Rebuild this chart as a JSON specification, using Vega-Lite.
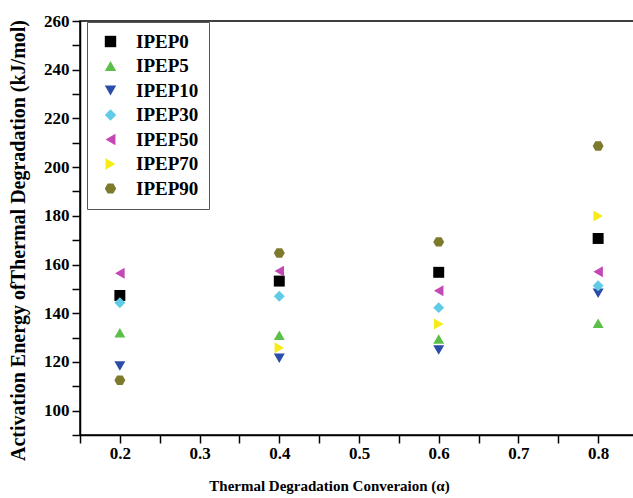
{
  "$schema": "https://vega.github.io/schema/vega-lite/v6.json",
  "autosize": "none",
  "padding": {"left": 80, "top": 21, "right": 0, "bottom": 63},
  "width": 558,
  "height": 414,
  "background": "white",
  "config": {
    "view": {"stroke": "black", "strokeWidth": 1.5},
    "font": "Liberation Serif"
  },
  "data": {
    "values": [
      {"conversion": 0.2, "sample": "IPEP0", "energy": 147.3},
      {"conversion": 0.2, "sample": "IPEP5", "energy": 132.0},
      {"conversion": 0.2, "sample": "IPEP10", "energy": 118.3},
      {"conversion": 0.2, "sample": "IPEP30", "energy": 144.3},
      {"conversion": 0.2, "sample": "IPEP50", "energy": 156.4},
      {"conversion": 0.2, "sample": "IPEP90", "energy": 112.5},
      {"conversion": 0.4, "sample": "IPEP0", "energy": 153.2},
      {"conversion": 0.4, "sample": "IPEP5", "energy": 131.0},
      {"conversion": 0.4, "sample": "IPEP10", "energy": 121.5},
      {"conversion": 0.4, "sample": "IPEP30", "energy": 147.0},
      {"conversion": 0.4, "sample": "IPEP50", "energy": 157.3},
      {"conversion": 0.4, "sample": "IPEP70", "energy": 125.8},
      {"conversion": 0.4, "sample": "IPEP90", "energy": 164.7},
      {"conversion": 0.6, "sample": "IPEP0", "energy": 156.8},
      {"conversion": 0.6, "sample": "IPEP5", "energy": 129.4},
      {"conversion": 0.6, "sample": "IPEP10", "energy": 124.9},
      {"conversion": 0.6, "sample": "IPEP30", "energy": 142.3},
      {"conversion": 0.6, "sample": "IPEP50", "energy": 149.2},
      {"conversion": 0.6, "sample": "IPEP70", "energy": 135.6},
      {"conversion": 0.6, "sample": "IPEP90", "energy": 169.3},
      {"conversion": 0.8, "sample": "IPEP0", "energy": 170.7},
      {"conversion": 0.8, "sample": "IPEP5", "energy": 135.9},
      {"conversion": 0.8, "sample": "IPEP10", "energy": 148.2},
      {"conversion": 0.8, "sample": "IPEP30", "energy": 151.3},
      {"conversion": 0.8, "sample": "IPEP50", "energy": 157.0},
      {"conversion": 0.8, "sample": "IPEP70", "energy": 179.9},
      {"conversion": 0.8, "sample": "IPEP90", "energy": 208.7}
    ]
  },
  "mark": {"type": "point", "filled": true, "size": 120, "opacity": 1},
  "encoding": {
    "x": {
      "field": "conversion",
      "type": "quantitative",
      "scale": {"domain": [0.15, 0.85], "nice": false, "zero": false},
      "axis": {
        "title": "Thermal Degradation Converaion (α)",
        "values": [0.15, 0.2, 0.25, 0.3, 0.35, 0.4, 0.45, 0.5, 0.55, 0.6, 0.65, 0.7, 0.75, 0.8, 0.85],
        "labelExpr": "abs(datum.value*10 - round(datum.value*10)) < 0.01 ? format(datum.value, '.1f') : ''",
        "tickSize": 8,
        "encode": {
          "ticks": {
            "update": {
              "y2": {"signal": "abs(datum.value*10 - round(datum.value*10)) < 0.01 ? 8 : 5"}
            }
          }
        },
        "grid": false,
        "domainColor": "black",
        "domainWidth": 1.5,
        "tickColor": "black",
        "tickWidth": 1.5,
        "labelFont": "Liberation Serif",
        "labelFontWeight": "bold",
        "labelFontSize": 17,
        "labelColor": "black",
        "labelPadding": 2,
        "labelFlush": false,
        "labelOverlap": false,
        "titleFont": "Liberation Serif",
        "titleFontWeight": "bold",
        "titleFontSize": 15,
        "titleColor": "black",
        "titlePadding": 17,
        "titleX": 249
      }
    },
    "y": {
      "field": "energy",
      "type": "quantitative",
      "scale": {"domain": [90, 260], "nice": false, "zero": false},
      "axis": {
        "title": "Activation Energy ofThermal Degradation  (kJ/mol)",
        "values": [90, 100, 110, 120, 130, 140, 150, 160, 170, 180, 190, 200, 210, 220, 230, 240, 250, 260],
        "labelExpr": "datum.value % 20 == 0 ? datum.value : ''",
        "tickSize": 8,
        "encode": {
          "ticks": {
            "update": {
              "x2": {"signal": "datum.value % 20 == 0 ? -8 : -5"}
            }
          }
        },
        "grid": false,
        "domainColor": "black",
        "domainWidth": 1.5,
        "tickColor": "black",
        "tickWidth": 1.5,
        "labelFont": "Liberation Serif",
        "labelFontWeight": "bold",
        "labelFontSize": 17,
        "labelColor": "black",
        "labelPadding": 3,
        "labelFlush": false,
        "labelOverlap": false,
        "titleFont": "Liberation Serif",
        "titleFontWeight": "bold",
        "titleFontSize": 20,
        "titleColor": "black",
        "titlePadding": 15,
        "titleY": 219
      }
    },
    "color": {
      "field": "sample",
      "type": "nominal",
      "scale": {
        "domain": ["IPEP0", "IPEP5", "IPEP10", "IPEP30", "IPEP50", "IPEP70", "IPEP90"],
        "range": ["#000000", "#5cbf4a", "#2b4da8", "#5fcbe6", "#c448b4", "#f7ec1a", "#7d7a2c"]
      },
      "legend": {
        "title": null,
        "orient": "none",
        "legendX": 7,
        "legendY": 1,
        "padding": 10,
        "symbolOffset": 4,
        "strokeColor": "#555555",
        "fillColor": "white",
        "labelFont": "Liberation Serif",
        "labelFontWeight": "bold",
        "labelFontSize": 19,
        "labelColor": "black",
        "labelOffset": 16,
        "rowPadding": 4.5,
        "symbolSize": 130,
        "symbolStrokeWidth": 0,
        "symbolOpacity": 1
      }
    },
    "shape": {
      "field": "sample",
      "type": "nominal",
      "scale": {
        "domain": ["IPEP0", "IPEP5", "IPEP10", "IPEP30", "IPEP50", "IPEP70", "IPEP90"],
        "range": ["square", "triangle-up", "triangle-down", "diamond", "triangle-left", "triangle-right", "M-1,0L-0.5,-0.866L0.5,-0.866L1,0L0.5,0.866L-0.5,0.866Z"]
      }
    }
  }
}
